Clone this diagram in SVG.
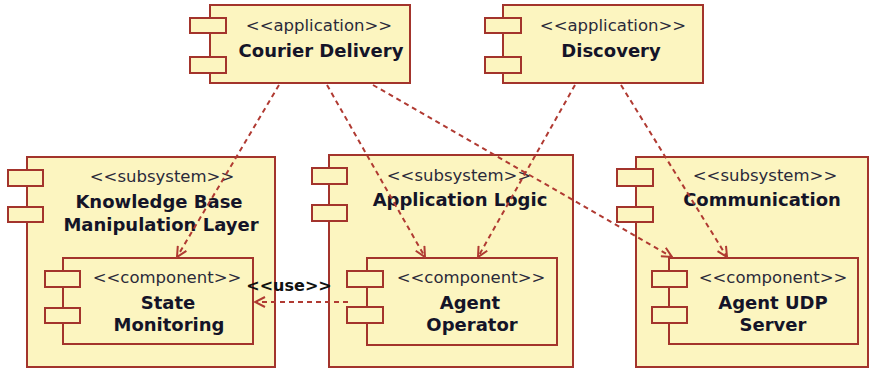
<svg xmlns="http://www.w3.org/2000/svg" width="870" height="368" viewBox="0 0 870 368">
  <style>
    .box { fill: #fcf5c0; stroke: #a3342c; stroke-width: 2; }
    .port { fill: #fcf5c0; stroke: #a3342c; stroke-width: 2; }
    .st { font-family: "DejaVu Sans", sans-serif; font-size: 16.5px; fill: #2a2a3a; text-anchor: middle; }
    .nm { font-family: "DejaVu Sans", sans-serif; font-size: 18px; font-weight: bold; fill: #141428; text-anchor: middle; }
    .dep { fill: none; stroke: #b03a32; stroke-width: 2; stroke-dasharray: 5 4; marker-end: url(#open); }
    .lbl { font-family: "DejaVu Sans", sans-serif; font-size: 16px; font-weight: bold; fill: #111; text-anchor: middle; }
  </style>
  <defs>
    <marker id="open" viewBox="0 0 12 12" refX="11" refY="6" markerWidth="12" markerHeight="12" markerUnits="userSpaceOnUse" orient="auto">
      <path d="M1,1 L11,6 L1,11" fill="none" stroke="#b03a32" stroke-width="2"/>
    </marker>
  </defs>
  <rect width="870" height="368" fill="#ffffff"/>

  <!-- applications -->
  <g id="courier-delivery">
    <rect class="box" x="210" y="5" width="200" height="78"/>
    <rect class="port" x="190" y="18" width="36" height="15"/>
    <rect class="port" x="190" y="57" width="36" height="16"/>
    <text class="st" x="319" y="31">&lt;&lt;application&gt;&gt;</text>
    <text class="nm" x="321" y="57">Courier Delivery</text>
  </g>
  <g id="discovery">
    <rect class="box" x="503" y="5" width="200" height="78"/>
    <rect class="port" x="485" y="18" width="36" height="15"/>
    <rect class="port" x="485" y="57" width="36" height="16"/>
    <text class="st" x="613" y="31">&lt;&lt;application&gt;&gt;</text>
    <text class="nm" x="611" y="57">Discovery</text>
  </g>

  <!-- subsystems -->
  <g id="knowledge-base">
    <rect class="box" x="27" y="157" width="248" height="210"/>
    <rect class="port" x="8" y="170" width="35" height="16"/>
    <rect class="port" x="8" y="207" width="35" height="15"/>
    <text class="st" x="162" y="182">&lt;&lt;subsystem&gt;&gt;</text>
    <text class="nm" x="159" y="208">Knowledge Base</text>
    <text class="nm" x="161" y="231">Manipulation Layer</text>
  </g>
  <g id="application-logic">
    <rect class="box" x="329" y="155" width="244" height="212"/>
    <rect class="port" x="312" y="168" width="35" height="16"/>
    <rect class="port" x="312" y="205" width="35" height="16"/>
    <text class="st" x="459" y="181">&lt;&lt;subsystem&gt;&gt;</text>
    <text class="nm" x="460" y="206">Application Logic</text>
  </g>
  <g id="communication">
    <rect class="box" x="636" y="157" width="232" height="210"/>
    <rect class="port" x="617" y="169" width="36" height="17"/>
    <rect class="port" x="617" y="207" width="36" height="15"/>
    <text class="st" x="765" y="181">&lt;&lt;subsystem&gt;&gt;</text>
    <text class="nm" x="762" y="206">Communication</text>
  </g>

  <!-- components -->
  <g id="state-monitoring">
    <rect class="box" x="63" y="258" width="190" height="86"/>
    <rect class="port" x="45" y="271" width="35" height="16"/>
    <rect class="port" x="45" y="308" width="35" height="15"/>
    <text class="st" x="167" y="283">&lt;&lt;component&gt;&gt;</text>
    <text class="nm" x="168" y="309">State</text>
    <text class="nm" x="169" y="331">Monitoring</text>
  </g>
  <g id="agent-operator">
    <rect class="box" x="367" y="258" width="190" height="87"/>
    <rect class="port" x="347" y="271" width="36" height="16"/>
    <rect class="port" x="347" y="307" width="36" height="16"/>
    <text class="st" x="471" y="283">&lt;&lt;component&gt;&gt;</text>
    <text class="nm" x="470" y="309">Agent</text>
    <text class="nm" x="472" y="331">Operator</text>
  </g>
  <g id="agent-udp-server">
    <rect class="box" x="669" y="258" width="189" height="86"/>
    <rect class="port" x="652" y="271" width="35" height="16"/>
    <rect class="port" x="652" y="307" width="35" height="16"/>
    <text class="st" x="773" y="283">&lt;&lt;component&gt;&gt;</text>
    <text class="nm" x="773" y="309">Agent UDP</text>
    <text class="nm" x="773" y="331">Server</text>
  </g>

  <!-- dependencies -->
  <g id="connectors">
    <line class="dep" x1="279" y1="85" x2="177" y2="257"/>
    <line class="dep" x1="327" y1="85" x2="425" y2="257"/>
    <line class="dep" x1="373" y1="85" x2="672" y2="257"/>
    <line class="dep" x1="575" y1="85" x2="478" y2="257"/>
    <line class="dep" x1="621" y1="85" x2="727" y2="257"/>
    <line class="dep" x1="348" y1="302" x2="255" y2="302"/>
    <text class="lbl" x="289" y="291">&lt;&lt;use&gt;&gt;</text>
  </g>
</svg>
